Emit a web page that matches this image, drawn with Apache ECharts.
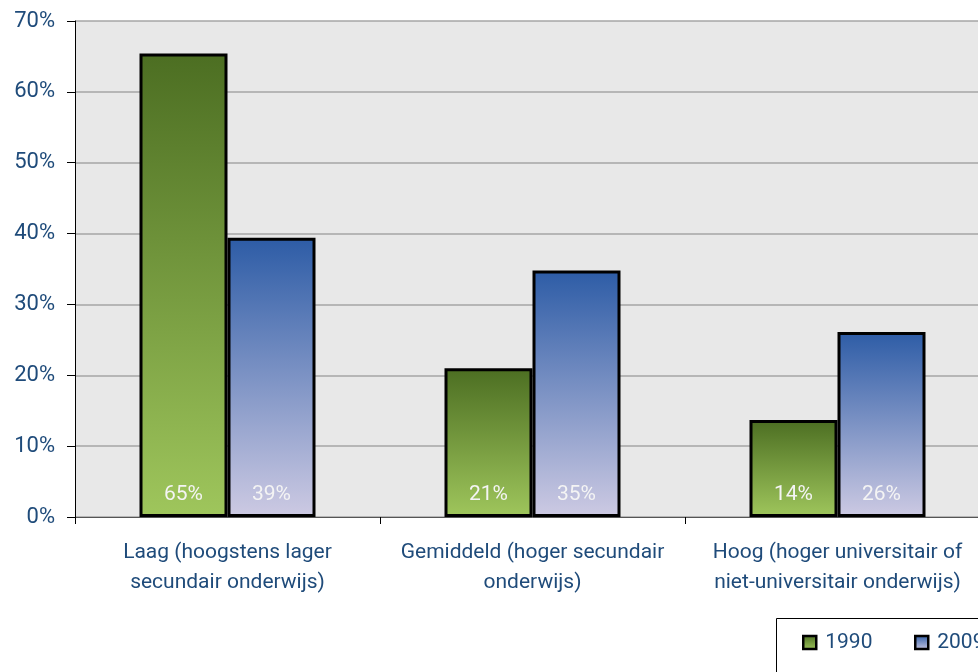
<!DOCTYPE html>
<html>
<head>
<meta charset="utf-8">
<script src="https://cdn.jsdelivr.net/npm/echarts@6/dist/echarts.min.js"></script>
<style>
  html, body { margin: 0; padding: 0; background: #fff; overflow: hidden; }
  #main { width: 990px; height: 672px; }
</style>
</head>
<body>
<div id="main"></div>
<script>
// categorieën en waarden (in %)
const categories = [
  'Laag (hoogstens lager\nsecundair onderwijs)',
  'Gemiddeld (hoger secundair\nonderwijs)',
  'Hoog (hoger universitair of\nniet-universitair onderwijs)'
]
const values1990 = [65.4, 21.0, 13.7]
const values2009 = [39.4, 34.8, 26.1]
const yTicks = [0, 10, 20, 30, 40, 50, 60, 70]

const textColor = '#1f4b7a'
const font = 'Roboto, "DejaVu Sans", sans-serif'

function grad (top, bottom) {
  return new echarts.graphic.LinearGradient(0, 0, 0, 1, [
    { offset: 0, color: top },
    { offset: 1, color: bottom }
  ])
}

const legendText = { color: textColor, fontSize: 21, fontFamily: font, padding: [0, 0, 0, 4] }

const myChart = echarts.init(document.getElementById('main'))
myChart.setOption({
  animation: false,
  textStyle: { fontFamily: font },
  grid: {
    left: 75,
    top: 21,
    right: 0,
    bottom: 155,
    show: true,
    backgroundColor: '#e8e8e8',
    borderWidth: 0
  },
  // kader rond de legende
  graphic: [{
    type: 'rect',
    left: 776,
    top: 618,
    shape: { width: 240, height: 80 },
    style: { fill: '#fff', stroke: '#000', lineWidth: 1 },
    z: 0
  }],
  legend: [
    {
      left: 802,
      top: 632,
      padding: 0,
      icon: 'rect',
      itemWidth: 13,
      itemHeight: 13,
      itemStyle: { borderColor: '#000', borderWidth: 2.5 },
      textStyle: legendText,
      data: ['1990']
    },
    {
      left: 914,
      top: 632,
      padding: 0,
      icon: 'rect',
      itemWidth: 13,
      itemHeight: 13,
      itemStyle: { borderColor: '#000', borderWidth: 2.5 },
      textStyle: legendText,
      data: ['2009']
    }
  ],
  xAxis: {
    type: 'category',
    data: categories,
    axisLine: { lineStyle: { color: '#555', width: 1 } },
    axisTick: { show: true, length: 7, lineStyle: { color: '#000' } },
    axisLabel: {
      interval: 0,
      color: textColor,
      fontSize: 21,
      lineHeight: 30,
      margin: 21,
      fontFamily: font
    }
  },
  yAxis: {
    type: 'value',
    min: yTicks[0],
    max: yTicks[yTicks.length - 1],
    interval: 10,
    axisLine: { show: true, lineStyle: { color: '#000', width: 1 } },
    axisTick: { show: true, length: 8, lineStyle: { color: '#000' } },
    axisLabel: {
      color: textColor,
      fontSize: 22,
      margin: 20,
      fontFamily: font,
      formatter: v => v + '%'
    },
    splitLine: { lineStyle: { color: '#a6a6a6', width: 1.5 } }
  },
  series: [
    {
      name: '1990',
      type: 'bar',
      barWidth: 88,
      barGap: '0%',
      data: values1990,
      itemStyle: {
        color: grad('#4c6e22', '#9fc65c'),
        borderColor: '#000',
        borderWidth: 3
      },
      label: {
        show: true,
        position: 'insideBottom',
        distance: 12,
        color: '#f4f4f4',
        fontSize: 21,
        fontFamily: font,
        formatter: p => Math.round(p.value) + '%'
      }
    },
    {
      name: '2009',
      type: 'bar',
      barWidth: 88,
      data: values2009,
      itemStyle: {
        color: grad('#2d5ca6', '#cdcae3'),
        borderColor: '#000',
        borderWidth: 3
      },
      label: {
        show: true,
        position: 'insideBottom',
        distance: 12,
        color: '#f4f4f4',
        fontSize: 21,
        fontFamily: font,
        formatter: p => Math.round(p.value) + '%'
      }
    }
  ]
})
</script>
</body>
</html>
